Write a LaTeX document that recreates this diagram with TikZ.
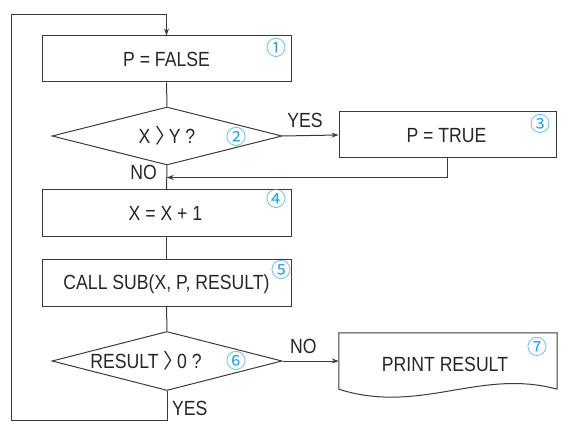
\documentclass[tikz,border=0pt]{standalone}
\usepackage{fontspec}
\setmainfont{Liberation Sans}[FakeStretch=0.86]
\newfontfamily\cjk{Noto Sans CJK KR}
\usepackage{tikz}
\usetikzlibrary{arrows.meta, shapes.geometric, calc, positioning}
\definecolor{linegray}{HTML}{3A3A3A}
\definecolor{numblue}{HTML}{2AA0D8}
\newcommand{\gtsign}{{\cjk 〉}\kern-7pt}
\tikzset{
    procbox/.style={draw=linegray, line width=1pt, minimum width=249pt, minimum height=46pt, inner sep=0pt},
    decision/.style={draw=linegray, line width=1pt, diamond, aspect=3.97, minimum width=230pt, minimum height=58pt, inner sep=0pt},
    numlbl/.style={text=numblue, font=\cjk\fontsize{20}{20}\selectfont, inner sep=0pt},
    txt/.style={text=black!85, font=\fontsize{20.5}{24}\selectfont, inner sep=0pt},
    conn/.style={draw=linegray, line width=1pt},
    arr/.style={conn, -{Stealth[length=7pt,width=5pt]}}
}

\begin{document}
\begin{tikzpicture}[x=1pt, y=-1pt]
    \useasboundingbox (0,0) rectangle (568,433);

    % Boxes and decisions
    \node[procbox] (b1) at (166.5,59) {};
    \node[decision] (d1) at (167,136) {};
    \node[procbox, minimum width=217pt] (b3) at (447.5,135) {};
    \node[procbox] (b4) at (166.5,213) {};
    \node[procbox, minimum height=47pt] (b5) at (166.5,282.5) {};
    \node[decision, minimum height=59pt] (d2) at (167,361) {};
    \node[minimum width=218pt, minimum height=56pt, inner sep=0pt] (doc) at (448,361) {};

    % Document shape with wavy bottom
    \draw[conn] (doc.south east) -- (doc.north east) -- (doc.north west) -- (doc.south west)
        .. controls (420,415) and (480,368) .. (doc.south east);

    % Texts
    \node[txt] (t1) at (166.5,59) {P = FALSE};
    \node[txt] (t2) at (167,136) {X \gtsign Y ?};
    \node[txt] (t3) at (446.5,136) {P = TRUE};
    \node[txt] (t4) at (165.5,213) {X = X + 1};
    \node[txt] (t5) at (166.5,284) {CALL SUB(X, P, RESULT)};
    \node[txt] (t6) at (146,361) {RESULT \gtsign 0 ?};
    \node[txt] (t7) at (445,364) {PRINT RESULT};

    % Circled numbers
    \foreach \num/\px/\py [count=\i] in {①/276/48, ②/236/137, ③/540/124, ④/276/199, ⑤/281/270, ⑥/236/361, ⑦/537/347}
        \node[numlbl] (c\i) at (\px,\py) {\num};

    % Connectors
    \draw[conn] (b1.south) -- (d1.north);
    \draw[arr] (d1.east) -- node[txt, above=7pt, pos=0.4] (yes1) {YES} (b3.west);
    \draw[arr] (b3.south) |- ($(d1.south)!0.5!(b4.north)$);
    \node[txt, anchor=east] (no1) at ($(d1.south)+(-10,7)$) {NO};
    \draw[conn] (d1.south) -- (b4.north);
    \draw[conn] (b4.south) -- (b5.north);
    \draw[conn] (b5.south) -- (d2.north);
    \draw[arr] (d2.east) -- node[txt, above=7pt, pos=0.37] (no2) {NO} (doc.west);
    \node[txt, anchor=west] (yes2) at ($(d2.south)+(5,17)$) {YES};

    % Loop back to start
    \coordinate (loopL) at (11,15);
    \draw[arr] (d2.south) -- ++(0,29) -| (loopL) -| (b1.north);
\end{tikzpicture}
\end{document}
